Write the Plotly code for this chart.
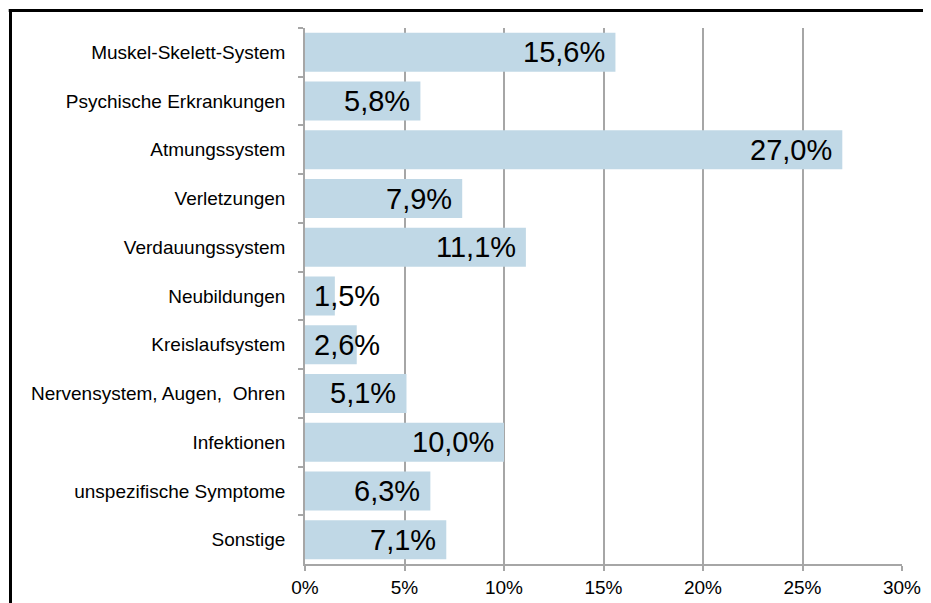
import plotly.graph_objects as go

categories = [
    "Muskel-Skelett-System",
    "Psychische Erkrankungen",
    "Atmungssystem",
    "Verletzungen",
    "Verdauungssystem",
    "Neubildungen",
    "Kreislaufsystem",
    "Nervensystem, Augen,  Ohren",
    "Infektionen",
    "unspezifische Symptome",
    "Sonstige",
]
values = [15.6, 5.8, 27.0, 7.9, 11.1, 1.5, 2.6, 5.1, 10.0, 6.3, 7.1]
x_ticks = [0, 5, 10, 15, 20, 25, 30]
x_tick_labels = ["0%", "5%", "10%", "15%", "20%", "25%", "30%"]

labels = [f"{v:.1f}".replace(".", ",") + "%" for v in values]

# page body has an 8px margin, so the figure is offset by 8px
OFF = 8
W, H = 931 - OFF, 603 - OFF
ML, MR, MT, MB = 305 - OFF, 29, 28 - OFF, 39
PW, PH = W - ML - MR, H - MT - MB

fig = go.Figure()
fig.add_trace(go.Bar(
    x=values, y=categories, orientation="h",
    marker=dict(color="#C0D8E6", line=dict(width=0)),
    hoverinfo="x+y",
))

annotations = []
for cat, v, lab in zip(categories, values, labels):
    small = v < 4
    annotations.append(dict(
        x=0 if small else v, y=cat, xref="x", yref="y",
        text=lab, showarrow=False,
        xanchor="left" if small else "right",
        xshift=7 if small else -8,
        yanchor="middle",
        font=dict(family="Liberation Sans, Arial, sans-serif", size=29, color="#000000"),
    ))

def px_to_paper_x(px):
    return (px - ML) / PW

def px_to_paper_y(py):
    return (H - MB - py) / PH

left_x = px_to_paper_x(10.5 - OFF)
top_y = px_to_paper_y(10.5 - OFF)
shapes = [
    dict(type="line", xref="paper", yref="paper",
         x0=left_x, x1=left_x, y0=px_to_paper_y(H + 20), y1=top_y,
         line=dict(color="#000000", width=3)),
    dict(type="line", xref="paper", yref="paper",
         x0=left_x - 0.003, x1=px_to_paper_x(W + 20), y0=top_y, y1=top_y,
         line=dict(color="#000000", width=3)),
]

fig.update_layout(
    width=W, height=H,
    margin=dict(l=ML, r=MR, t=MT, b=MB, pad=0, autoexpand=False),
    paper_bgcolor="white", plot_bgcolor="white",
    bargap=0.2,
    showlegend=False,
    annotations=annotations,
    shapes=shapes,
    font=dict(family="Liberation Sans, Arial, sans-serif", color="#000000"),
    xaxis=dict(
        range=[0, 30], tickvals=x_ticks, ticktext=x_tick_labels,
        automargin=False,
        showgrid=True, gridcolor="#A6A6A6", gridwidth=1.5,
        zeroline=False, showline=True, linecolor="#A6A6A6", linewidth=1.5,
        ticks="outside", ticklen=5, tickcolor="#A6A6A6", tickwidth=1.5,
        tickfont=dict(size=19, color="#000000"),
        fixedrange=True,
    ),
    yaxis=dict(
        autorange="reversed", type="category",
        automargin=False,
        showline=True, linecolor="#A6A6A6", linewidth=1.5,
        ticks="outside", ticklen=5, tickcolor="#A6A6A6", tickwidth=1.5,
        tickson="boundaries",
        tickfont=dict(size=19, color="#000000"),
        ticklabelstandoff=14,
        showgrid=False,
        fixedrange=True,
    ),
)

fig.write_html("out.html")
